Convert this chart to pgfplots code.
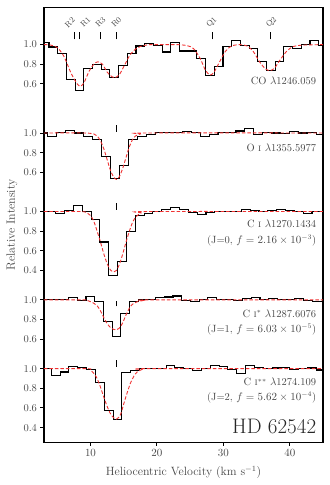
\documentclass[border=0pt]{standalone}
\usepackage{pgfplots}
\pgfplotsset{compat=1.18}
\definecolor{modelred}{RGB}{240,50,50}
\definecolor{txtgray}{RGB}{70,70,70}
\tikzset{
  lbl/.style={font=\fontsize{10.5}{12}\selectfont, text=txtgray, anchor=east, inner sep=0pt},
  trans/.style={font=\fontsize{8}{9}\selectfont, text=txtgray, rotate=45, inner sep=0pt},
  idbar/.style={line width=1.1pt},
}

\begin{document}
\begin{tikzpicture}
\begin{axis}[
  scale only axis, width=279pt, height=435pt,
  xmin=3, xmax=45, ymin=0.25, ymax=4.68,
  xtick={10,20,30,40},
  ytick={0.4,0.6,0.8,1.0,1.3,1.5,1.7,2.0,2.2,2.4,2.6,3.0,3.2,3.4,3.9,4.1,4.3},
  yticklabels={0.4,0.6,0.8,1.0,0.6,0.8,1.0,0.4,0.6,0.8,1.0,0.6,0.8,1.0,0.6,0.8,1.0},
  tick align=outside, xtick pos=bottom, ytick pos=left,
  major tick length=3.5pt,
  axis line style={line width=1.4pt},
  every tick/.style={black, line width=0.9pt},
  tick label style={font=\fontsize{10.5}{12}\selectfont, text=txtgray},
  xlabel={Heliocentric Velocity (km s$^{-1}$)},
  ylabel={Relative Intensity},
  label style={font=\fontsize{12}{14}\selectfont, text=txtgray},
  xlabel style={at={(axis description cs:0.5,-0.069)}, anchor=center},
  ylabel style={at={(axis description cs:-0.115,0.5)}, anchor=center},
  hist/.style={black, line width=1.1pt, const plot mark left, mark=none},
  model/.style={color=modelred, line width=0.9pt, dash pattern=on 3.5pt off 2pt, smooth, mark=none},
]

% CO 1246.059 (offset 3.3)
\addplot[hist, y filter/.expression={y+3.3}] coordinates {
(3.00,1.02) (3.75,0.976) (5.06,0.91) (6.37,0.644) (7.68,0.534) (8.99,0.757)
(10.30,0.80) (11.61,0.747) (12.92,0.668) (14.23,0.788) (15.54,0.91) (16.85,0.986)
(18.16,1.01) (19.47,0.993) (20.78,0.925) (22.09,1.017) (23.40,0.935) (24.71,0.935)
(26.02,0.856) (27.33,0.685) (28.64,0.78) (29.95,0.979) (31.26,1.038) (32.57,0.993)
(33.88,0.959) (35.19,0.832) (36.50,0.736) (37.81,0.832) (39.12,0.979) (40.43,0.959)
(41.74,1.0) (43.05,1.038) (44.36,0.993) (45.0,0.993)};
\addplot[model, y filter/.expression={y+3.3}] coordinates {
(3.0,1.0) (4.0,0.995) (5.0,0.97) (6.0,0.88) (7.0,0.72) (7.8,0.62) (8.4,0.575)
(9.0,0.61) (9.8,0.73) (10.5,0.80) (11.1,0.825) (11.8,0.80) (12.5,0.72) (13.2,0.675)
(13.75,0.665) (14.4,0.70) (15.2,0.80) (16.0,0.90) (17.0,0.965) (18.0,0.99) (19.0,1.0)
(21.0,1.0) (23.0,1.0) (24.5,0.99) (25.5,0.96) (26.5,0.86) (27.3,0.74) (28.0,0.69)
(28.6,0.72) (29.4,0.82) (30.3,0.93) (31.2,0.985) (32.5,1.0) (33.6,0.985) (34.5,0.93)
(35.5,0.82) (36.3,0.755) (37.0,0.735) (37.7,0.76) (38.5,0.84) (39.5,0.93) (40.5,0.98)
(42.0,0.995) (45.0,1.0)};

% O I 1355.5977 (offset 2.4)
\addplot[hist, y filter/.expression={y+2.4}] coordinates {
(3.0,1.0) (3.55,0.965) (4.9,1.007) (6.25,1.028) (7.6,1.0) (8.95,0.965) (10.3,0.937)
(11.65,0.757) (13.0,0.537) (14.35,0.666) (15.7,0.93) (17.05,0.965) (18.4,0.98)
(19.75,1.007) (21.1,1.007) (22.45,1.007) (23.8,1.014) (25.15,1.007) (26.5,0.965)
(27.85,0.986) (29.2,1.007) (30.55,1.007) (31.9,1.02) (33.25,1.05) (34.6,0.986)
(35.95,1.007) (37.3,1.0) (38.65,0.993) (40.0,1.014) (41.35,1.0) (42.7,1.007)
(44.05,0.986) (45.0,0.986)};
\addplot[model, y filter/.expression={y+2.4}] coordinates {
(3,1.0) (9,1.0) (10.5,0.99) (11.0,0.97) (11.5,0.92) (12.0,0.84) (12.5,0.73) (13.0,0.62)
(13.5,0.55) (13.9,0.527) (14.3,0.55) (14.8,0.63) (15.3,0.74) (15.8,0.85) (16.3,0.93)
(16.8,0.97) (17.5,0.99) (18.5,1.0) (45,1.0)};

% C I 1270.1434 (offset 1.6)
\addplot[hist, y filter/.expression={y+1.6}] coordinates {
(3.0,1.0) (3.44,1.0) (4.77,0.983) (6.10,1.007) (7.43,1.059) (8.76,0.997) (10.09,0.921)
(11.42,0.69) (12.75,0.352) (14.08,0.49) (15.41,0.793) (16.74,0.962) (18.07,0.983)
(19.40,0.997) (20.73,1.024) (22.06,1.038) (23.39,1.017) (24.72,0.99) (26.05,0.972)
(27.38,0.99) (28.71,0.997) (30.04,1.003) (31.37,1.003) (32.70,1.024) (34.03,1.01)
(35.36,0.997) (36.69,1.01) (38.02,1.017) (39.35,1.01) (40.68,1.003) (42.01,0.976)
(43.34,0.997) (44.67,0.997) (45.0,0.997)};
\addplot[model, y filter/.expression={y+1.6}] coordinates {
(3,1.0) (8.5,1.0) (9.5,0.985) (10.0,0.96) (10.5,0.90) (11.0,0.80) (11.5,0.69) (12.0,0.57)
(12.5,0.47) (13.0,0.405) (13.5,0.385) (13.9,0.40) (14.4,0.47) (14.9,0.58) (15.4,0.70)
(15.9,0.81) (16.4,0.90) (16.9,0.95) (17.6,0.985) (18.5,1.0) (45,1.0)};

% C I* 1287.6076 (offset 0.7)
\addplot[hist, y filter/.expression={y+0.7}] coordinates {
(3.0,1.0) (4.08,1.0) (5.39,1.0) (6.70,1.024) (8.01,0.993) (9.32,1.034) (10.63,0.986)
(11.94,0.776) (13.25,0.627) (14.56,0.864) (15.87,0.98) (17.18,1.0) (18.49,1.0)
(19.80,1.024) (21.11,1.03) (22.42,1.04) (23.73,0.993) (25.04,0.986) (26.35,1.0)
(27.66,1.024) (28.97,1.007) (30.28,1.0) (31.59,0.993) (32.90,1.017) (34.21,1.024)
(35.52,1.007) (36.83,1.014) (38.14,1.0) (39.45,1.007) (40.76,1.014) (42.07,0.993)
(43.38,0.986) (44.69,0.986) (45.0,0.986)};
\addplot[model, y filter/.expression={y+0.7}] coordinates {
(3,1.0) (9.0,1.0) (9.5,0.995) (10.5,0.966) (11.0,0.94) (11.5,0.89) (12.0,0.82)
(12.5,0.76) (13.0,0.72) (13.5,0.70) (13.9,0.695) (14.3,0.71) (14.8,0.76) (15.3,0.84)
(15.8,0.91) (16.3,0.955) (17.0,0.98) (18.0,0.995) (19,1.0) (45,1.0)};

% C I** 1274.109 (offset 0)
\addplot[hist] coordinates {
(3.0,1.0) (4.09,0.931) (5.42,0.966) (6.75,1.021) (8.08,1.01) (9.41,0.993) (10.74,0.855)
(12.07,0.572) (13.40,0.479) (14.73,0.959) (16.06,0.979) (17.39,1.0) (18.72,1.0)
(20.05,1.0) (21.38,1.034) (22.71,1.014) (24.04,1.0) (25.37,0.979) (26.70,1.0)
(28.03,1.034) (29.36,1.021) (30.69,0.993) (32.02,0.952) (33.35,1.034) (34.68,1.014)
(36.01,1.0) (37.34,1.007) (38.67,1.014) (40.00,0.993) (41.33,1.0) (42.66,1.007)
(43.99,0.986) (45.0,0.986)};
\addplot[model] coordinates {
(3,1.0) (9.5,1.0) (10.0,0.986) (10.75,0.93) (11.3,0.85) (12.0,0.71) (12.6,0.60)
(13.2,0.52) (13.9,0.486) (14.5,0.53) (15.0,0.64) (15.5,0.75) (16.0,0.85) (16.5,0.92)
(17.0,0.965) (17.7,0.99) (18.5,1.0) (45,1.0)};

% line identifications
\draw[idbar] (axis cs:7.65,4.354) -- (axis cs:7.65,4.427);
\draw[idbar] (axis cs:8.35,4.354) -- (axis cs:8.35,4.427);
\draw[idbar] (axis cs:11.5,4.354) -- (axis cs:11.5,4.427);
\draw[idbar] (axis cs:13.9,4.354) -- (axis cs:13.9,4.427);
\draw[idbar] (axis cs:28.35,4.354) -- (axis cs:28.35,4.427);
\draw[idbar] (axis cs:37.15,4.354) -- (axis cs:37.15,4.427);
\node[trans] at (axis cs:6.9,4.525) {R2};
\node[trans] at (axis cs:9.25,4.53) {R1};
\node[trans] at (axis cs:11.5,4.53) {R3};
\node[trans] at (axis cs:13.9,4.53) {R0};
\node[trans] at (axis cs:28.25,4.525) {Q1};
\node[trans] at (axis cs:37.25,4.525) {Q2};

\draw[idbar] (axis cs:13.9,3.414) -- (axis cs:13.9,3.477);
\draw[idbar] (axis cs:13.9,2.616) -- (axis cs:13.9,2.692);
\draw[idbar] (axis cs:13.9,1.633) -- (axis cs:13.9,1.690);
\draw[idbar] (axis cs:13.9,1.020) -- (axis cs:13.9,1.090);

% panel labels
\node[lbl] at (axis cs:44.0,3.936) {CO $\lambda$1246.059};
\node[lbl] at (axis cs:44.0,3.247) {O \textsc{i} $\lambda$1355.5977};
\node[lbl] at (axis cs:44.0,2.470) {C \textsc{i} $\lambda$1270.1434};
\node[lbl] at (axis cs:44.0,2.300) {(J=0, $f=2.16\times10^{-3}$)};
\node[lbl] at (axis cs:44.0,1.561) {C \textsc{i}$^{*}$ $\lambda$1287.6076};
\node[lbl] at (axis cs:44.0,1.400) {(J=1, $f=6.03\times10^{-5}$)};
\node[lbl] at (axis cs:44.0,0.861) {C \textsc{i}$^{**}$ $\lambda$1274.109};
\node[lbl] at (axis cs:44.0,0.704) {(J=2, $f=5.62\times10^{-4}$)};
\node[anchor=east, inner sep=0pt, font=\fontsize{21}{24}\selectfont, text=black!85]
  at (axis cs:44.0,0.415) {HD 62542};
\end{axis}
\pgfresetboundingbox
\path ([shift={(-44pt,-42.7pt)}]current axis.south west) rectangle ([shift={(6.7pt,7.3pt)}]current axis.north east);
\end{tikzpicture}
\end{document}
